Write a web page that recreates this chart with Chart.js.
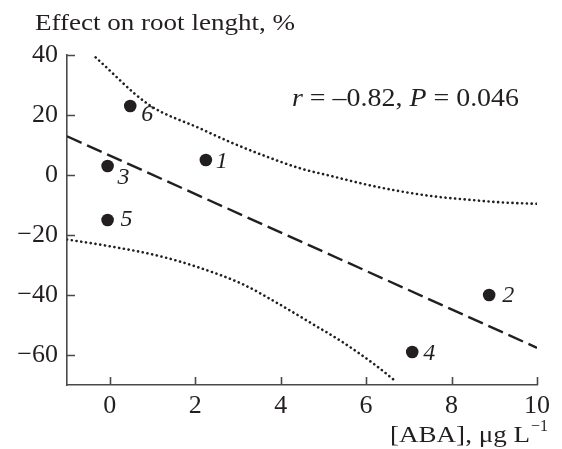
<!DOCTYPE html>
<html>
<head>
<meta charset="utf-8">
<script src="https://cdn.jsdelivr.net/npm/chart.js@4/dist/chart.umd.min.js"></script>
<style>
  html, body { margin: 0; padding: 0; background: #fff; }
  #wrap { width: 562px; height: 449px; position: relative; }
</style>
</head>
<body>
<div id="wrap"><canvas id="chart"></canvas></div>
<script>
"use strict";

// Measured points (ABA, effect %), numbered as in the figure
const pointNames = ["1", "2", "3", "4", "5", "6"];
const abaValues = [2.25, 8.88, -0.05, 7.08, -0.05, 0.48];
const effectValues = [5, -40, 3, -59, -15, 23];

// Regression line (dashed), read at both ends of the axis
const fitX = [-1, 10];
const fitY = [12.9, -57.6];

// Confidence band (dotted)
const upperX = [-0.33, 0.92, 2.1, 2.88, 3.66, 4.44, 5.23, 6.01, 6.79, 7.57, 8.36, 9.14, 10];
const upperY = [39.2, 23.4, 15.6, 10.6, 6.2, 2.3, -0.5, -3.2, -5.4, -7.1, -8.2, -9.1, -9.6];
const lowerX = [-1, -0.02, 1.16, 2.1, 3.11, 3.9, 4.68, 5.46, 6.24, 6.67];
const lowerY = [-21.5, -23.7, -27.0, -30.9, -36.4, -42.5, -49.1, -55.8, -63.6, -68.5];

const xTicks = [0, 2, 4, 6, 8, 10];
const yTicks = [-60, -40, -20, 0, 20, 40];

const statText = ["r", " = –0.82, ", "P", " = 0.046"];
const yTitle = ["Effect on root lenght, %"];
const xTitle = ["[ABA], μg L"];
const xTitleSup = "−1";

const INK = "#231f20";
const AXIS = "#4a4a4a";
const FONT = "'Liberation Serif', 'Times New Roman', serif";

// label offsets next to each point (px)
const labelOffsets = [[16, 2], [19, 1], [16, 12], [17, 2], [19, 0], [17, 9]];

const zip = (xs, ys) => xs.map((x, i) => ({ x, y: ys[i] }));

// draw text runs (even index italic if italicEven) stretched to a given width
function drawRuns(ctx, parts, x, y, width, size, italicEven) {
  const fontFor = (i) => (italicEven && i % 2 === 0 ? "italic " : "") + size + "px " + FONT;
  let natural = 0;
  parts.forEach((p, i) => { ctx.font = fontFor(i); natural += ctx.measureText(p).width; });
  const k = width / natural;
  ctx.save();
  ctx.translate(x, y);
  ctx.scale(k, 1);
  let tx = 0;
  parts.forEach((p, i) => {
    ctx.font = fontFor(i);
    ctx.fillText(p, tx, 0);
    tx += ctx.measureText(p).width;
  });
  ctx.restore();
}

const annotations = {
  id: "annotations",
  afterDatasetsDraw(chart) {
    const ctx = chart.ctx;
    const xs = chart.scales.x;
    const ys = chart.scales.y;
    const area = chart.chartArea;
    ctx.save();
    ctx.fillStyle = INK;
    ctx.strokeStyle = AXIS;

    // inward tick marks
    ctx.lineWidth = 1.6;
    ctx.beginPath();
    xTicks.forEach((v) => {
      const px = Math.round(xs.getPixelForValue(v)) + 0.5;
      ctx.moveTo(px, area.bottom);
      ctx.lineTo(px, area.bottom - 8);
    });
    yTicks.forEach((v) => {
      const py = Math.round(ys.getPixelForValue(v)) + 0.5;
      ctx.moveTo(area.left, py);
      ctx.lineTo(area.left + 8, py);
    });
    ctx.stroke();

    // point numbers
    const meta = chart.getDatasetMeta(0);
    ctx.font = "italic 24px " + FONT;
    ctx.textAlign = "center";
    ctx.textBaseline = "middle";
    meta.data.forEach((el, i) => {
      const off = labelOffsets[i];
      ctx.fillText(pointNames[i], el.x + off[0], el.y + off[1]);
    });

    ctx.textAlign = "left";
    ctx.textBaseline = "alphabetic";
    // statistics
    drawRuns(ctx, statText, 292, 106, 227, 25, true);
    // axis titles
    drawRuns(ctx, yTitle, 35, 30, 260, 24, false);
    ctx.font = "16px " + FONT;
    const supW = ctx.measureText(xTitleSup).width;
    ctx.fillText(xTitleSup, 548 - supW, 431);
    drawRuns(ctx, xTitle, 390, 442, 158 - supW - 1, 24, false);
    ctx.restore();
  },
};

new Chart(document.getElementById("chart"), {
  type: "scatter",
  data: {
    datasets: [
      {
        data: zip(abaValues, effectValues),
        pointRadius: 6.3,
        pointHoverRadius: 6.3,
        pointBackgroundColor: INK,
        pointBorderWidth: 0,
        showLine: false,
      },
      {
        data: zip(fitX, fitY),
        showLine: true,
        pointRadius: 0,
        borderColor: INK,
        borderWidth: 2.4,
        borderDash: [16, 6],
      },
      {
        data: zip(upperX, upperY),
        showLine: true,
        pointRadius: 0,
        borderColor: INK,
        borderWidth: 2.6,
        borderDash: [0.1, 4.7],
        borderCapStyle: "round",
        cubicInterpolationMode: "monotone",
      },
      {
        data: zip(lowerX, lowerY),
        showLine: true,
        pointRadius: 0,
        borderColor: INK,
        borderWidth: 2.6,
        borderDash: [0.1, 4.7],
        borderCapStyle: "round",
        cubicInterpolationMode: "monotone",
      },
    ],
  },
  options: {
    responsive: true,
    maintainAspectRatio: false,
    animation: false,
    layout: { padding: { top: 55, right: 25, left: 0, bottom: 0 } },
    plugins: { legend: { display: false }, tooltip: { enabled: false } },
    scales: {
      x: {
        type: "linear",
        min: -1,
        max: 10,
        afterBuildTicks: (s) => { s.ticks = xTicks.map((v) => ({ value: v })); },
        afterFit: (s) => { s.height = 64; },
        grid: { display: false, drawTicks: false },
        border: { display: true, color: AXIS, width: 1.6 },
        ticks: { color: INK, padding: 6, font: { family: FONT, size: 26 }, maxRotation: 0 },
      },
      y: {
        type: "linear",
        min: -70,
        max: 40,
        afterBuildTicks: (s) => { s.ticks = yTicks.map((v) => ({ value: v })); },
        afterFit: (s) => { s.width = 67; },
        grid: { display: false, drawTicks: false },
        border: { display: true, color: AXIS, width: 1.6 },
        ticks: {
          color: INK,
          padding: 9,
          font: { family: FONT, size: 26 },
          callback: (v) => String(v).replace("-", "−"),
        },
      },
    },
  },
  plugins: [annotations],
});
</script>
</body>
</html>
